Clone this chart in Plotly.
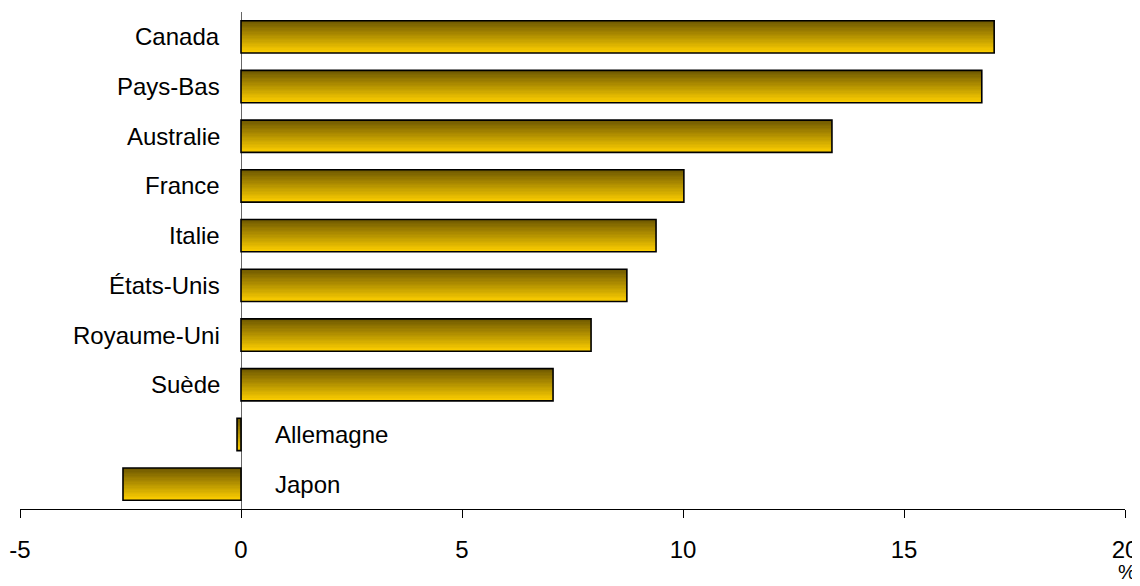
import plotly.graph_objects as go

categories = ["Canada", "Pays-Bas", "Australie", "France", "Italie",
              "États-Unis", "Royaume-Uni", "Suède", "Allemagne", "Japon"]
values = [17.04, 16.76, 13.37, 10.02, 9.39, 8.73, 7.92, 7.06, -0.09, -2.67]
x_ticks = [-5, 0, 5, 10, 15, 20]
x_tick_text = ["-5", "0", "5", "10", "15", "20"]
unit_label = "%"

FONT = "Liberation Sans, Arial, sans-serif"
bar_w = 0.65
n_slices = 24
top_rgb = (110, 88, 0)
bot_rgb = (250, 204, 0)

fig = go.Figure()
for i in range(n_slices):
    t = i / (n_slices - 1)
    c = tuple(int(round(a + (b - a) * t)) for a, b in zip(top_rgb, bot_rgb))
    fig.add_trace(go.Bar(
        x=values, y=categories, orientation="h",
        width=bar_w / n_slices,
        offset=-bar_w / 2 + i * bar_w / n_slices,
        marker=dict(color="rgb(%d,%d,%d)" % c, line=dict(width=0)),
        showlegend=False, hoverinfo="skip",
    ))
# outline
fig.add_trace(go.Bar(
    x=values, y=categories, orientation="h", width=bar_w,
    marker=dict(color="rgba(0,0,0,0)", line=dict(color="black", width=1.6)),
    showlegend=False,
))

for cat, v in zip(categories, values):
    if v >= 0:
        fig.add_annotation(x=0, y=cat, xref="x", yref="y", text=cat, showarrow=False,
                           xanchor="right", xshift=-19, font=dict(size=24, color="black", family=FONT))
    else:
        fig.add_annotation(x=0, y=cat, xref="x", yref="y", text=cat, showarrow=False,
                           xanchor="left", xshift=32, font=dict(size=24, color="black", family=FONT))

fig.add_annotation(x=1, y=0, xref="paper", yref="paper", text=unit_label, showarrow=False,
                   xanchor="center", yanchor="top", yshift=-50, xshift=2,
                   font=dict(size=20, color="black", family=FONT))

fig.update_layout(
    width=1140, height=586,
    margin=dict(l=12, r=23, t=4, b=85, autoexpand=False),
    paper_bgcolor="white", plot_bgcolor="white",
    barmode="overlay",
    font=dict(family=FONT, size=20, color="black"),
    xaxis=dict(range=[-5, 20], tickvals=x_ticks, ticktext=x_tick_text, showgrid=False,
               automargin=False,
               zeroline=True, zerolinecolor="#666666", zerolinewidth=1.2,
               showline=True, linecolor="black", linewidth=1.2,
               ticks="outside", ticklen=8, tickcolor="black", tickwidth=1.2,
               ticklabelstandoff=11,
               tickfont=dict(size=24, family=FONT)),
    yaxis=dict(range=[9.5, -0.5], showticklabels=False, showgrid=False,
               automargin=False,
               zeroline=False, showline=False, ticks=""),
)

fig.write_html("out.html")
